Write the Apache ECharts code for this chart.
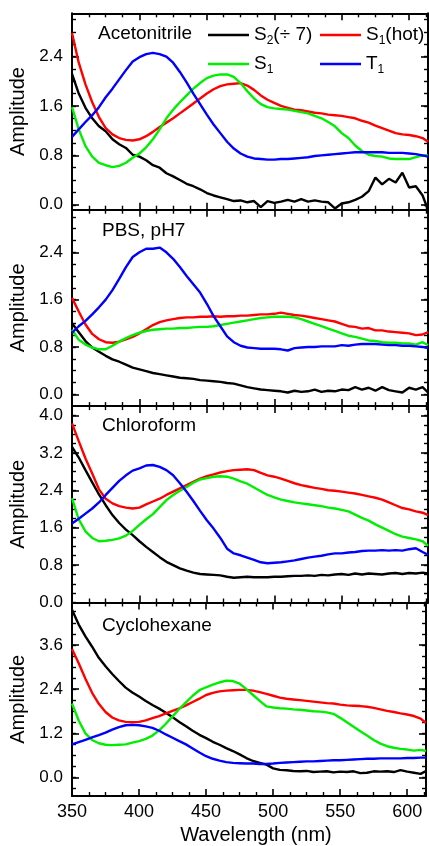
<!DOCTYPE html>
<html><head><meta charset="utf-8">
<script src="https://cdn.jsdelivr.net/npm/echarts@6/dist/echarts.min.js"></script>
<style>html,body{margin:0;padding:0;background:#fff}#c{width:429px;height:846px}</style>
</head><body><div id="c"></div>
<script>
const wavelength = [350,355,360,365,370,375,380,385,390,395,
  400,405,410,415,420,425,430,435,440,445,
  450,455,460,465,470,475,480,485,490,495,
  500,505,510,515,520,525,530,535,540,545,
  550,555,560,565,570,575,580,585,590,595,
  600,605,610,614];

const panelNames = ['Acetonitrile', 'PBS, pH7', 'Chloroform', 'Cyclohexane'];
const seriesNames = ['S2(÷7)', 'S1(hot)', 'S1', 'T1'];

// Acetonitrile
const acetonitrile_S2 = [2.12,1.80,1.57,1.40,1.27,1.19,1.06,0.98,0.92,0.81,
  0.78,0.72,0.64,0.60,0.51,0.46,0.40,0.34,0.30,0.25,
  0.19,0.15,0.12,0.09,0.06,0.07,0.04,0.06,-0.04,0.06,
  0.03,0.05,0.08,0.05,0.09,0.05,0.07,0.05,0.04,-0.06,
  0.02,0.04,0.08,0.13,0.22,0.44,0.33,0.42,0.36,0.52,
  0.28,0.30,0.15,-0.08];
const acetonitrile_S1hot = [2.78,2.30,1.95,1.66,1.42,1.24,1.14,1.08,1.05,1.04,
  1.06,1.11,1.18,1.26,1.33,1.40,1.48,1.56,1.64,1.72,
  1.80,1.87,1.92,1.95,1.96,1.97,1.93,1.86,1.77,1.70,
  1.65,1.60,1.57,1.54,1.53,1.51,1.49,1.48,1.46,1.45,
  1.44,1.42,1.40,1.36,1.33,1.28,1.24,1.20,1.16,1.14,
  1.13,1.11,1.08,1.02];
const acetonitrile_S1 = [1.58,1.22,0.95,0.78,0.68,0.64,0.61,0.63,0.68,0.76,
  0.83,0.93,1.06,1.22,1.40,1.54,1.66,1.77,1.88,1.97,
  2.05,2.09,2.11,2.11,2.07,1.97,1.84,1.72,1.63,1.58,
  1.56,1.55,1.54,1.52,1.50,1.48,1.44,1.40,1.34,1.27,
  1.16,1.08,0.96,0.87,0.81,0.79,0.78,0.75,0.74,0.74,
  0.74,0.77,0.80,0.80];
const acetonitrile_T1 = [1.10,1.22,1.34,1.45,1.58,1.74,1.88,2.03,2.18,2.32,
  2.39,2.44,2.46,2.44,2.40,2.30,2.15,1.98,1.80,1.63,
  1.46,1.30,1.16,1.02,0.91,0.83,0.78,0.75,0.74,0.73,
  0.73,0.74,0.74,0.75,0.76,0.77,0.79,0.80,0.81,0.82,
  0.83,0.84,0.85,0.85,0.85,0.85,0.85,0.84,0.84,0.84,
  0.83,0.82,0.80,0.78];

// PBS, pH7
const pbs_S2 = [1.20,1.05,0.90,0.79,0.72,0.65,0.59,0.55,0.50,0.45,
  0.42,0.39,0.36,0.34,0.32,0.30,0.28,0.27,0.26,0.24,
  0.23,0.22,0.21,0.19,0.18,0.15,0.12,0.10,0.08,0.07,
  0.06,0.05,0.03,0.06,0.04,0.05,0.08,0.04,0.06,0.05,
  0.08,0.07,0.12,0.08,0.11,0.06,0.12,0.07,0.05,0.03,
  0.11,0.08,0.12,0.03];
const pbs_S1hot = [1.63,1.40,1.18,1.02,0.93,0.88,0.87,0.89,0.93,0.97,
  1.03,1.10,1.17,1.22,1.25,1.27,1.29,1.30,1.30,1.31,
  1.31,1.32,1.31,1.32,1.32,1.33,1.33,1.34,1.35,1.35,
  1.36,1.38,1.36,1.34,1.33,1.31,1.29,1.27,1.25,1.23,
  1.19,1.15,1.14,1.11,1.12,1.08,1.08,1.06,1.05,1.04,
  1.03,1.00,1.01,1.05];
const pbs_S1 = [1.09,0.92,0.84,0.79,0.76,0.76,0.82,0.89,0.95,1.00,
  1.04,1.07,1.09,1.10,1.11,1.11,1.12,1.12,1.13,1.14,
  1.14,1.15,1.17,1.19,1.21,1.23,1.25,1.27,1.29,1.30,
  1.31,1.31,1.31,1.30,1.27,1.23,1.19,1.15,1.11,1.07,
  1.03,0.99,0.97,0.94,0.91,0.90,0.88,0.87,0.87,0.86,
  0.86,0.84,0.88,0.83];
const pbs_T1 = [1.04,1.15,1.24,1.35,1.47,1.60,1.76,1.95,2.15,2.32,
  2.40,2.46,2.46,2.48,2.40,2.29,2.15,2.00,1.86,1.72,
  1.53,1.32,1.15,0.98,0.88,0.82,0.79,0.78,0.77,0.77,
  0.77,0.76,0.74,0.78,0.79,0.80,0.80,0.81,0.81,0.81,
  0.83,0.82,0.84,0.85,0.85,0.85,0.84,0.83,0.83,0.82,
  0.82,0.81,0.80,0.78];

// Chloroform
const chloroform_S2 = [3.33,3.10,2.83,2.57,2.31,2.08,1.87,1.70,1.56,1.44,
  1.31,1.19,1.08,0.97,0.87,0.80,0.73,0.68,0.64,0.61,
  0.60,0.59,0.58,0.55,0.53,0.54,0.55,0.54,0.54,0.54,
  0.55,0.55,0.56,0.57,0.57,0.58,0.57,0.59,0.58,0.60,
  0.61,0.59,0.62,0.60,0.62,0.61,0.60,0.62,0.63,0.61,
  0.63,0.62,0.64,0.62];
const chloroform_S1hot = [3.83,3.45,3.08,2.76,2.42,2.22,2.12,2.06,2.03,2.01,
  2.03,2.10,2.16,2.22,2.30,2.37,2.44,2.51,2.58,2.65,
  2.70,2.74,2.78,2.81,2.83,2.84,2.85,2.83,2.77,2.72,
  2.69,2.65,2.60,2.55,2.51,2.48,2.45,2.43,2.40,2.39,
  2.37,2.35,2.33,2.30,2.27,2.24,2.20,2.14,2.08,2.02,
  1.99,1.95,1.92,1.87];
const chloroform_S1 = [2.23,1.78,1.52,1.38,1.31,1.32,1.34,1.37,1.43,1.53,
  1.66,1.78,1.89,2.04,2.19,2.30,2.39,2.47,2.56,2.63,
  2.66,2.69,2.70,2.69,2.65,2.59,2.54,2.46,2.38,2.30,
  2.25,2.20,2.17,2.14,2.12,2.10,2.08,2.06,2.03,2.01,
  1.98,1.95,1.88,1.81,1.75,1.67,1.60,1.53,1.46,1.41,
  1.38,1.35,1.31,1.21];
const chloroform_T1 = [1.69,1.79,1.90,2.01,2.14,2.30,2.45,2.60,2.72,2.82,
  2.87,2.93,2.94,2.90,2.83,2.72,2.55,2.37,2.17,1.96,
  1.76,1.58,1.38,1.15,1.05,1.01,0.96,0.91,0.86,0.84,
  0.85,0.86,0.88,0.90,0.93,0.96,0.98,1.00,1.03,1.05,
  1.05,1.07,1.08,1.10,1.11,1.11,1.12,1.11,1.12,1.11,
  1.14,1.16,1.08,1.02];

// Cyclohexane
const cyclohexane_S2 = [4.55,4.15,3.83,3.55,3.25,3.02,2.81,2.62,2.44,2.31,
  2.20,2.08,1.97,1.87,1.76,1.64,1.51,1.39,1.27,1.16,
  1.07,0.97,0.89,0.80,0.72,0.63,0.53,0.45,0.40,0.35,
  0.25,0.21,0.20,0.18,0.17,0.18,0.15,0.16,0.17,0.14,
  0.16,0.15,0.17,0.12,0.13,0.17,0.16,0.17,0.15,0.20,
  0.16,0.13,0.10,0.18];
const cyclohexane_S1hot = [3.49,3.10,2.68,2.30,2.00,1.78,1.63,1.55,1.51,1.50,
  1.51,1.55,1.61,1.67,1.74,1.81,1.88,1.96,2.05,2.14,
  2.24,2.30,2.34,2.36,2.37,2.38,2.38,2.36,2.32,2.27,
  2.22,2.17,2.14,2.12,2.10,2.08,2.06,2.04,2.02,2.01,
  1.98,1.96,1.95,1.94,1.92,1.89,1.85,1.81,1.78,1.74,
  1.71,1.67,1.60,1.48];
const cyclohexane_S1 = [2.01,1.55,1.20,1.02,0.93,0.89,0.88,0.89,0.90,0.95,
  0.99,1.05,1.14,1.28,1.46,1.66,1.86,2.04,2.22,2.37,
  2.45,2.52,2.58,2.63,2.62,2.55,2.40,2.24,2.08,1.93,
  1.90,1.88,1.87,1.85,1.84,1.82,1.80,1.79,1.77,1.73,
  1.62,1.50,1.38,1.26,1.14,1.02,0.92,0.85,0.81,0.78,
  0.76,0.73,0.75,0.72];
const cyclohexane_T1 = [0.90,0.96,1.02,1.09,1.15,1.22,1.30,1.37,1.42,1.43,
  1.42,1.39,1.35,1.27,1.17,1.08,0.99,0.90,0.79,0.68,
  0.58,0.51,0.46,0.42,0.40,0.39,0.38,0.38,0.37,0.37,
  0.38,0.40,0.41,0.42,0.43,0.44,0.44,0.45,0.46,0.47,
  0.47,0.48,0.49,0.50,0.51,0.51,0.52,0.52,0.52,0.52,
  0.53,0.53,0.54,0.54];

const panelData = [
  [acetonitrile_S2, acetonitrile_S1hot, acetonitrile_S1, acetonitrile_T1],
  [pbs_S2, pbs_S1hot, pbs_S1, pbs_T1],
  [chloroform_S2, chloroform_S1hot, chloroform_S1, chloroform_T1],
  [cyclohexane_S2, cyclohexane_S1hot, cyclohexane_S1, cyclohexane_T1]
];

// axes
const xMin = 350, xMax = 614, xInterval = 50;
const yMin = [-0.08, -0.2, 0, -0.5];
const yMax = [3.1, 3.12, 4.2, 4.75];
const yMajorTicks = [
  [0, 0.8, 1.6, 2.4],
  [0, 0.8, 1.6, 2.4],
  [0, 0.8, 1.6, 2.4, 3.2, 4.0],
  [0, 1.2, 2.4, 3.6]
];
const yMinorTicks = [
  [0,0.2,0.4,0.6,0.8,1.0,1.2,1.4,1.6,1.8,2.0,2.2,2.4,2.6,2.8,3.0],
  [0,0.2,0.4,0.6,0.8,1.0,1.2,1.4,1.6,1.8,2.0,2.2,2.4,2.6,2.8,3.0],
  [0,0.2,0.4,0.6,0.8,1.0,1.2,1.4,1.6,1.8,2.0,2.2,2.4,2.6,2.8,3.0,3.2,3.4,3.6,3.8,4.0],
  [-0.3,0,0.3,0.6,0.9,1.2,1.5,1.8,2.1,2.4,2.7,3.0,3.3,3.6,3.9,4.2,4.5]
];

const colors = ['#000000', '#ff0000', '#00ee00', '#0000ff'];
const F = '"Liberation Sans", Arial, sans-serif';

const panelTop = 13.3, panelH = 196.4, gridLeft = 72, gridRight = 1;

const grid = [], xAxis = [], yAxis = [], series = [], title = [];
const lineBlack = {color: '#000', width: 2};

for (let i = 0; i < 4; i++) {
  grid.push({left: gridLeft, right: gridRight, top: panelTop + i * panelH, height: panelH});
  ['bottom', 'top'].forEach(pos => {
    const isLabel = (pos === 'bottom' && i === 3);
    xAxis.push({
      type: 'value', gridIndex: i, position: pos, min: xMin, max: xMax, interval: xInterval,
      axisLine: {show: true, onZero: false, lineStyle: lineBlack},
      axisTick: {show: true, inside: true, length: 7, lineStyle: {color: '#000', width: 1.6}},
      minorTick: {show: true, splitNumber: 4, length: 4, lineStyle: {color: '#000', width: 1.4}},
      splitLine: {show: false},
      axisLabel: {show: isLabel, margin: 7, color: '#000', fontSize: 18, fontFamily: F,
        formatter: v => (v % 50 === 0 ? String(v) : '')},
      name: isLabel ? 'Wavelength (nm)' : '',
      nameLocation: 'middle', nameGap: 29,
      nameTextStyle: {fontSize: 20, fontFamily: F, color: '#000', padding: [0, 0, 0, 14]}
    });
  });
  ['left', 'right'].forEach(pos => {
    const isLeft = pos === 'left';
    yAxis.push({
      type: 'value', gridIndex: i, position: pos, min: yMin[i], max: yMax[i],
      axisLine: {show: true, onZero: false, lineStyle: lineBlack},
      axisTick: {show: true, inside: true, length: 7, lineStyle: {color: '#000', width: 1.6}, customValues: yMajorTicks[i]},
      splitLine: {show: false},
      axisLabel: {show: isLeft, margin: 9, color: '#000', fontSize: 17, fontFamily: F,
        customValues: yMajorTicks[i], formatter: v => v.toFixed(1)},
      name: isLeft ? 'Amplitude' : '',
      nameLocation: 'middle', nameGap: 37,
      nameTextStyle: {fontSize: 20, fontFamily: F, color: '#000'}
    });
    yAxis.push({
      type: 'value', gridIndex: i, position: pos, min: yMin[i], max: yMax[i],
      axisLine: {show: false, onZero: false},
      axisTick: {show: true, inside: true, length: 4, lineStyle: {color: '#000', width: 1.4}, customValues: yMinorTicks[i]},
      splitLine: {show: false},
      axisLabel: {show: false}
    });
  });
  title.push({
    text: panelNames[i], left: i === 0 ? 98 : 102, top: [24, 221, 416, 616][i], padding: 0,
    textStyle: {fontSize: 19, fontWeight: 'normal', fontFamily: F, color: '#000'}
  });
  for (let s = 0; s < 4; s++) {
    series.push({
      type: 'line', name: seriesNames[s], xAxisIndex: 2 * i, yAxisIndex: 4 * i,
      data: wavelength.map((w, k) => [w, panelData[i][s][k]]),
      symbol: 'none', showSymbol: false, smooth: false,
      itemStyle: {color: colors[s]},
      lineStyle: {color: colors[s], width: 2.4},
      z: s === 3 ? 3 : 2
    });
  }
}

const legendLabel = {
  'S2(÷7)': '{n|S}{s|2}{n|(÷ 7)}',
  'S1(hot)': '{n|S}{s|1}{n|(hot)}',
  'S1': '{n|S}{s|1}',
  'T1': '{n|T}{s|1}'
};
const legendPos = [[208, 23], [320, 23], [208, 52], [320, 52]];
const legend = seriesNames.map((nm, k) => ({
  data: [nm], left: legendPos[k][0], top: legendPos[k][1], padding: 0,
  icon: 'rect', itemWidth: 41, itemHeight: 2.6, selectedMode: false,
  formatter: n => legendLabel[n],
  textStyle: {
    color: '#000', fontFamily: F, fontSize: 19,
    rich: {
      n: {fontSize: 19, fontFamily: F, color: '#000', lineHeight: 24},
      s: {fontSize: 12, fontFamily: F, color: '#000', lineHeight: 24, padding: [12, 0, 0, 0]}
    }
  }
}));

const chart = echarts.init(document.getElementById('c'), null, {renderer: 'canvas'});
chart.setOption({
  animation: false,
  backgroundColor: '#fff',
  grid, xAxis, yAxis, series, title, legend
});
</script>
</body></html>
